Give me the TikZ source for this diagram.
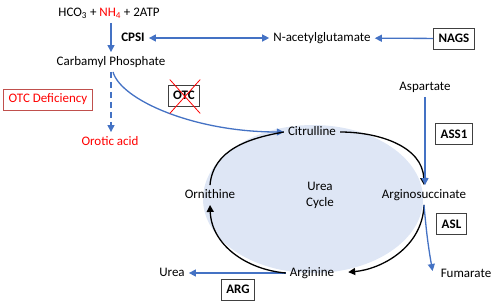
\documentclass[tikz,border=0pt]{standalone}
\usepackage{fontspec}
\setmainfont{Carlito}
\usetikzlibrary{arrows.meta}
\definecolor{flowblue}{HTML}{4472C4}
\definecolor{cyclefill}{RGB}{222,230,245}
\definecolor{defred}{HTML}{C0504D}
\newcommand{\diagfont}{\fontsize{13}{16}\selectfont}
\tikzset{
  metab/.style   = {inner sep=4pt, text height=9pt, text depth=2.5pt, font=\diagfont},
  enzyme/.style  = {rectangle, draw=black!75, line width=0.9pt, fill=white, inner xsep=5pt, minimum height=21pt, font=\diagfont\bfseries},
  deficit/.style = {rectangle, draw=defred, line width=0.9pt, text=red, inner xsep=5pt, minimum height=21pt, font=\diagfont},
  flow/.style    = {draw=flowblue, line width=1.3pt, -{Triangle[length=7pt,width=7pt]}},
  turn/.style    = {draw=black, line width=1.3pt, -{Triangle[length=7pt,width=7pt]}}
}

\begin{document}
\begin{tikzpicture}[x=1pt,y=-1pt]
  \useasboundingbox (0,0) rectangle (500,306);

  % sfondo del ciclo
  \fill[cyclefill] (313,199) ellipse [x radius=110, y radius=74];

  % sintesi del carbamil fosfato
  \node[metab] (hco)  at (109,13) {HCO\textsubscript{3} + \textcolor{red}{NH\textsubscript{4}} + 2ATP};
  \node[metab, font=\diagfont\bfseries] (cpsi) at (133,38) {CPSI};
  \node[metab] (nag)  at (322,38) {N-acetylglutamate};
  \node[enzyme] (nags) at (454,38.5) {NAGS};
  \node[metab] (carb) at (111,62) {Carbamyl Phosphate};

  % deficit OTC
  \node[deficit] (otcdef) at (48,99.5) {OTC Deficiency};
  \node[enzyme] (otc) at (184,95.5) {OTC};
  \node[metab, text=red] (oro) at (110,142) {Orotic acid};

  % ciclo
  \node[metab] (cit)  at (312,132) {Citrulline};
  \node[metab] (asp)  at (425,87)  {Aspartate};
  \node[enzyme] (ass) at (454,134) {ASS1};
  \node[metab] (asuc) at (424,195) {Arginosuccinate};
  \node[enzyme] (asl) at (451.5,224) {ASL};
  \node[metab] (fum)  at (466,274) {Fumarate};
  \node[metab] (arg)  at (312,273) {Arginine};
  \node[enzyme] (argase) at (238,289.5) {ARG};
  \node[metab] (urea) at (172,273) {Urea};
  \node[metab] (orn)  at (210,195) {Ornithine};
  \node[metab, align=center, text height=, text depth=] (uc) at (320,195) {Urea\\Cycle};

  \draw[flow] (hco.south -| carb.north) -- (carb.north);
  \draw[flow, {Triangle[length=7pt,width=7pt]}-{Triangle[length=7pt,width=7pt]}] (cpsi) -- (nag);
  \draw[flow] (nags) -- (nag);
  \draw[flow, dash pattern=on 6pt off 4pt] (carb.south) -- (carb.south |- oro.north);
  \draw[flow] ([xshift=2pt]carb.south) .. controls +(8pt,-28pt) and +(-90pt,0pt) .. (cit.west);

  \draw[red, line width=0.8pt] ([shift={(2pt,5pt)}]otc.north west) -- ([shift={(0pt,-7pt)}]otc.south east);
  \draw[red, line width=0.8pt] ([shift={(0pt,5pt)}]otc.north east) -- ([shift={(2pt,-7pt)}]otc.south west);

  \draw[turn] (cit.east) to[out=0,in=92] (asuc.north);
  \draw[flow] (asp.south) -- (asp.south |- asuc.north);
  \draw[turn, shorten >=10pt] (asuc.south) to[out=-92,in=5] (arg.east);
  \draw[flow] (asuc.south) to[out=-85,in=100] ([shift={(-4pt,3pt)}]fum.west);
  \draw[flow] (arg.west) -- (urea.east);
  \draw[turn] (arg.west) to[out=175,in=-88] (orn.south);
  \draw[turn, -] (orn.north) to[out=85,in=190] (cit.west);

\end{tikzpicture}
\end{document}
